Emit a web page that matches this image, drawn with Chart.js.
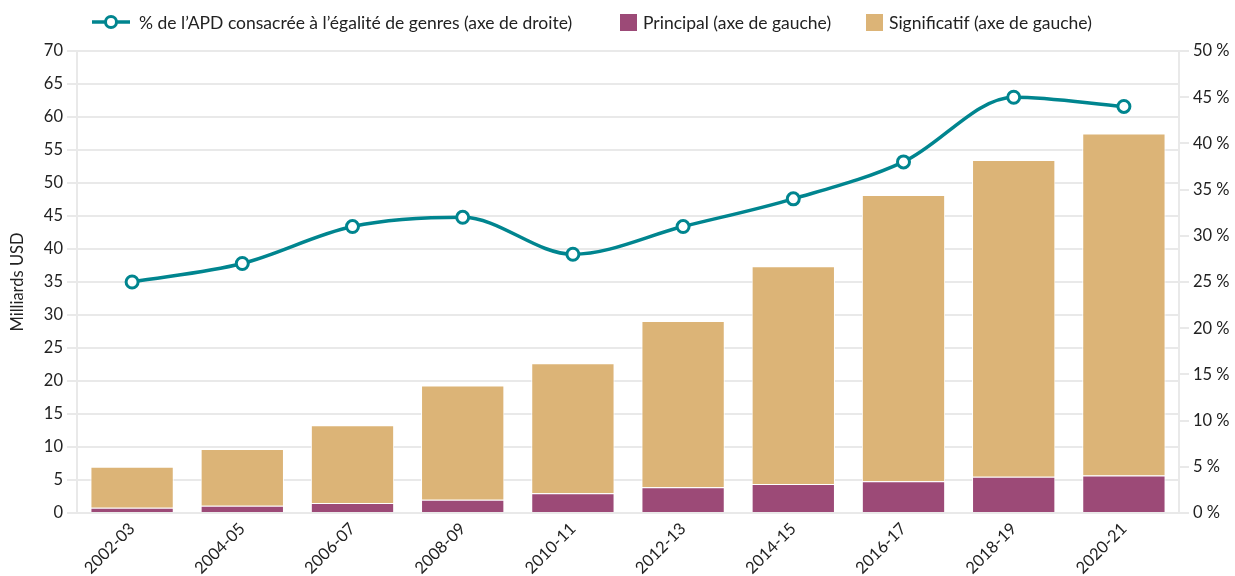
<!DOCTYPE html>
<html>
<head>
<meta charset="utf-8">
<script src="https://cdn.jsdelivr.net/npm/chart.js@4/dist/chart.umd.min.js"></script>
<style>
  html, body { margin: 0; padding: 0; background: #fff; }
  #wrap { width: 1235px; height: 576px; }
</style>
</head>
<body>
<div id="wrap"><canvas id="c" width="1235" height="576"></canvas></div>
<script>
// Periods (two-year averages)
const periods = ['2002-03', '2004-05', '2006-07', '2008-09', '2010-11', '2012-13', '2014-15', '2016-17', '2018-19', '2020-21'];
// Gender-focused ODA, billions USD (left axis)
const principal = [0.8, 1.1, 1.5, 2.0, 3.0, 3.9, 4.4, 4.8, 5.5, 5.7];
const significatif = [6.2, 8.6, 11.8, 17.3, 19.7, 25.2, 33.0, 43.4, 48.0, 51.8];
// Share of ODA dedicated to gender equality, % (right axis)
const shareGender = [25, 27, 31, 32, 28, 31, 34, 38, 45, 44];

// Axis ranges
const leftMax = 70, leftStep = 5;
const rightMax = 50, rightStep = 5;

const labelLine = '% de l\u2019APD consacrée à l\u2019égalité de genres (axe de droite)';
const labelPrincipal = 'Principal (axe de gauche)';
const labelSignif = 'Significatif (axe de gauche)';

const TEAL = '#00858f';
const PURPLE = '#9c4a77';
const GOLD = '#dcb477';
const GRID = '#e9e9e9';
const FONT = 'Lato';

// Legend drawn across the top, in dataset order
const legendStarts = [92, 620, 866];
const topLegend = {
  id: 'topLegend',
  afterDraw(chart) {
    const ctx = chart.ctx;
    ctx.save();
    ctx.font = '17.5px ' + FONT;
    ctx.textBaseline = 'middle';
    const y = 22;
    chart.data.datasets.forEach((ds, i) => {
      let x = legendStarts[i];
      if (ds.type === 'line') {
        ctx.strokeStyle = ds.borderColor;
        ctx.lineWidth = 3.5;
        ctx.beginPath();
        ctx.moveTo(x, y);
        ctx.lineTo(x + 38, y);
        ctx.stroke();
        ctx.beginPath();
        ctx.arc(x + 19, y, 5.5, 0, Math.PI * 2);
        ctx.fillStyle = '#fff';
        ctx.fill();
        ctx.lineWidth = 3;
        ctx.stroke();
        x += 47;
      } else {
        ctx.fillStyle = ds.backgroundColor;
        ctx.fillRect(x, y - 8, 17, 17);
        x += 23;
      }
      ctx.fillStyle = '#222';
      ctx.fillText(ds.label, x, y + 1);
    });
    ctx.restore();
  }
};

new Chart(document.getElementById('c'), {
  data: {
    labels: periods,
    datasets: [
      {
        type: 'line',
        label: labelLine,
        data: shareGender,
        yAxisID: 'yRight',
        borderColor: TEAL,
        borderWidth: 3.5,
        cubicInterpolationMode: 'monotone',
        pointRadius: 6,
        pointBorderWidth: 3,
        pointBackgroundColor: '#fff',
        pointBorderColor: TEAL
      },
      {
        type: 'bar',
        label: labelPrincipal,
        data: principal,
        yAxisID: 'y',
        stack: 'oda',
        backgroundColor: PURPLE,
        borderColor: '#fff',
        borderWidth: 1,
        barPercentage: 0.9,
        categoryPercentage: 0.84
      },
      {
        type: 'bar',
        label: labelSignif,
        data: significatif,
        yAxisID: 'y',
        stack: 'oda',
        backgroundColor: GOLD,
        borderColor: '#fff',
        borderWidth: 1,
        barPercentage: 0.9,
        categoryPercentage: 0.84
      }
    ]
  },
  options: {
    responsive: false,
    animation: false,
    devicePixelRatio: 1,
    layout: { padding: { top: 51, left: 4, right: 0, bottom: 0 } },
    plugins: {
      legend: { display: false },
      tooltip: { enabled: false }
    },
    scales: {
      x: {
        stacked: true,
        offset: true,
        grid: { display: false, drawTicks: false },
        border: { display: false },
        ticks: {
          color: '#222',
          font: { family: FONT, size: 16.5 },
          maxRotation: 45,
          minRotation: 45,
          padding: 6
        },
        afterFit(s) { s.height = 63; }
      },
      y: {
        position: 'left',
        stacked: true,
        min: 0,
        max: leftMax,
        ticks: {
          stepSize: leftStep,
          color: '#222',
          font: { family: FONT, size: 16.5 },
          padding: 4
        },
        grid: { color: GRID, lineWidth: 2, tickLength: 10 },
        border: { color: GRID, width: 2 },
        title: {
          display: true,
          text: 'Milliards USD',
          color: '#222',
          font: { family: FONT, size: 16.5 },
          padding: { top: 4, bottom: 4 }
        },
        afterFit(s) { s.width = 73; }
      },
      yRight: {
        position: 'right',
        min: 0,
        max: rightMax,
        ticks: {
          stepSize: rightStep,
          color: '#222',
          font: { family: FONT, size: 16.5 },
          padding: 4,
          callback: v => v + ' %'
        },
        grid: { color: GRID, lineWidth: 2, tickLength: 10, drawOnChartArea: false },
        border: { color: GRID, width: 2 },
        afterFit(s) { s.width = 56; }
      }
    }
  },
  plugins: [topLegend]
});
</script>
</body>
</html>
